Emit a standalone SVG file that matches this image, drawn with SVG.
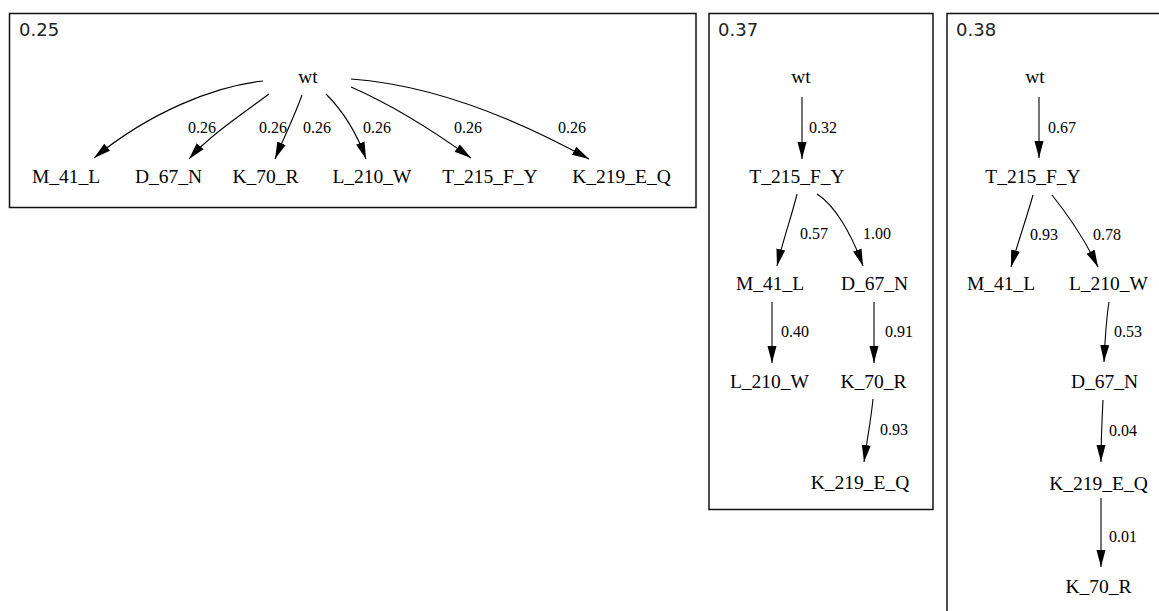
<svg xmlns="http://www.w3.org/2000/svg" width="1159" height="611" viewBox="0 0 1159 611">
<defs>
<style>
.box{fill:none;stroke:#111;stroke-width:1.5}
.title{font-family:"DejaVu Sans",sans-serif;font-size:18px;fill:#222}
.n{font-family:"Liberation Serif",serif;font-size:19.5px;fill:#000;text-anchor:middle}
.el{font-family:"Liberation Serif",serif;font-size:16px;fill:#000}
.e{fill:none;stroke:#000;stroke-width:1.1;marker-end:url(#ah)}
</style>
<marker id="ah" markerUnits="userSpaceOnUse" markerWidth="19" markerHeight="11" refX="17" refY="5" orient="auto">
<path d="M0,0.5 L17,5 L0,9.5 z" fill="#000"/>
</marker>
</defs>
<rect width="1159" height="611" fill="#fff"/>
<g id="cluster1">
<rect class="box" x="9.5" y="13.5" width="686.5" height="194"/>
<text class="title" x="19" y="36">0.25</text>
</g>
<g id="cluster2">
<rect class="box" x="709" y="13.5" width="224" height="496"/>
<text class="title" x="718" y="36">0.37</text>
</g>
<g id="cluster3">
<rect class="box" x="947" y="13.5" width="240" height="620"/>
<text class="title" x="956" y="36">0.38</text>
</g>
<g id="connectors">
<path class="e" d="M263,81 C215,86 150,112 94,158"/>
<path class="e" d="M269,94 C245,112 210,135 189,159"/>
<path class="e" d="M302,95 C295,115 285,135 275,159"/>
<path class="e" d="M326,94 C340,108 355,128 366,159"/>
<path class="e" d="M351,87 C390,104 435,132 471,158"/>
<path class="e" d="M351,79 C420,84 500,110 589,159"/>
<path class="e" d="M802,97 L802,159"/>
<path class="e" d="M797,194 C792,215 783,240 777,266"/>
<path class="e" d="M817,194 C835,205 852,235 863,266"/>
<path class="e" d="M772,302 L772,363"/>
<path class="e" d="M874,302 L874,363"/>
<path class="e" d="M873,399 C871,420 867,440 864,462"/>
<path class="e" d="M1039,97 L1039,158"/>
<path class="e" d="M1033,195 C1026,220 1017,245 1011,267"/>
<path class="e" d="M1052,195 C1068,215 1085,240 1098,267"/>
<path class="e" d="M1109,302 C1106,320 1105,340 1104,362"/>
<path class="e" d="M1103,400 C1102,420 1101,440 1101,462"/>
<path class="e" d="M1101,498 L1101,567"/>
<text class="el" x="188" y="133">0.26</text>
<text class="el" x="259" y="133">0.26</text>
<text class="el" x="303" y="133">0.26</text>
<text class="el" x="363" y="133">0.26</text>
<text class="el" x="454" y="133">0.26</text>
<text class="el" x="558" y="133">0.26</text>
<text class="el" x="809" y="133">0.32</text>
<text class="el" x="800" y="239">0.57</text>
<text class="el" x="863" y="239">1.00</text>
<text class="el" x="781" y="337">0.40</text>
<text class="el" x="885" y="337">0.91</text>
<text class="el" x="880" y="435">0.93</text>
<text class="el" x="1048" y="133">0.67</text>
<text class="el" x="1030" y="240">0.93</text>
<text class="el" x="1093" y="240">0.78</text>
<text class="el" x="1114" y="337">0.53</text>
<text class="el" x="1109" y="436">0.04</text>
<text class="el" x="1109" y="542">0.01</text>
</g>
<g id="c1_wt"><text class="n" x="308" y="83">wt</text></g>
<g id="c1_M_41_L"><text class="n" x="66" y="183">M_41_L</text></g>
<g id="c1_D_67_N"><text class="n" x="168.5" y="183">D_67_N</text></g>
<g id="c1_K_70_R"><text class="n" x="265.5" y="183">K_70_R</text></g>
<g id="c1_L_210_W"><text class="n" x="372" y="183">L_210_W</text></g>
<g id="c1_T_215_F_Y"><text class="n" x="490" y="183">T_215_F_Y</text></g>
<g id="c1_K_219_E_Q"><text class="n" x="621.5" y="183">K_219_E_Q</text></g>
<g id="c2_wt"><text class="n" x="801" y="83">wt</text></g>
<g id="c2_T_215_F_Y"><text class="n" x="797" y="183">T_215_F_Y</text></g>
<g id="c2_M_41_L"><text class="n" x="770" y="290">M_41_L</text></g>
<g id="c2_D_67_N"><text class="n" x="874.5" y="290">D_67_N</text></g>
<g id="c2_L_210_W"><text class="n" x="769.5" y="388">L_210_W</text></g>
<g id="c2_K_70_R"><text class="n" x="873.5" y="388">K_70_R</text></g>
<g id="c2_K_219_E_Q"><text class="n" x="860" y="489">K_219_E_Q</text></g>
<g id="c3_wt"><text class="n" x="1035" y="83">wt</text></g>
<g id="c3_T_215_F_Y"><text class="n" x="1033" y="183">T_215_F_Y</text></g>
<g id="c3_M_41_L"><text class="n" x="1001" y="290">M_41_L</text></g>
<g id="c3_L_210_W"><text class="n" x="1108.5" y="290">L_210_W</text></g>
<g id="c3_D_67_N"><text class="n" x="1104.5" y="388">D_67_N</text></g>
<g id="c3_K_219_E_Q"><text class="n" x="1098.5" y="490">K_219_E_Q</text></g>
<g id="c3_K_70_R"><text class="n" x="1098.5" y="593">K_70_R</text></g>
</svg>
